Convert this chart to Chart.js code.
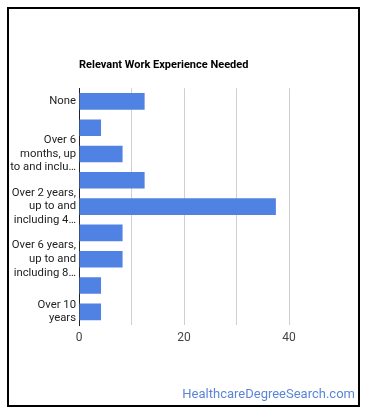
<!DOCTYPE html>
<html>
<head>
<meta charset="utf-8">
<script src="https://cdn.jsdelivr.net/npm/chart.js@4"></script>
<style>
  body { margin: 0; background: #fff; }
  #wrap { position: relative; width: 370px; height: 417px; }
  #frame { position: absolute; left: 7px; top: 7px; width: 349px; height: 396px; border: 2px solid #000; }
  #myChart { position: absolute; left: 0; top: 0; }
  #credit { position: absolute; right: 15px; top: 386px; font: 13px Roboto, Arial, sans-serif; color: #5b86d6; }
</style>
</head>
<body>
<div id="wrap">
  <div id="frame"></div>
  <canvas id="myChart" width="370" height="417"></canvas>
  <div id="credit">HealthcareDegreeSearch.com</div>
</div>
<script>
const categories = [
  "None",
  "Over 3 months, up to and including 6 months",
  "Over 6 months, up to and including 1 year",
  "Over 1 year, up to and including 2 years",
  "Over 2 years, up to and including 4 years",
  "Over 4 years, up to and including 6 years",
  "Over 6 years, up to and including 8 years",
  "Over 8 years, up to and including 10 years",
  "Over 10 years",
];
const values = [12.5, 4.2, 8.3, 12.5, 37.5, 8.3, 8.3, 4.2, 4.2];
// every other label is shown, wrapped and cut like the original
const tickLabels = [
  "None",
  "",
  ["Over 6", "months, up", "to and inclu…"],
  "",
  ["Over 2 years,", "up to and", "including 4…"],
  "",
  ["Over 6 years,", "up to and", "including 8…"],
  "",
  ["Over 10", "years"],
];
const xTicks = [0, 10, 20, 30, 40];

const cht = document.getElementById("myChart");

const chart = new Chart(cht, {
  type: "bar",
  data: {
    labels: categories,
    datasets: [
      {
        label: "Percent",
        data: values,
        backgroundColor: "rgb(80, 130, 228)",
        barPercentage: 1,
        categoryPercentage: 0.63,
      },
    ],
  },
  options: {
    indexAxis: "y",
    responsive: false,
    animation: false,
    layout: { padding: { left: 0, right: 18, top: 0, bottom: 0 } },
    scales: {
      x: {
        min: 0,
        max: 52,
        afterBuildTicks: (scale) => {
          scale.ticks = xTicks.map((v) => ({ value: v }));
        },
        afterFit: (scale) => {
          scale.height = 92;
        },
        grid: { color: "#d0d0d0", drawTicks: false },
        border: { display: false },
        ticks: {
          padding: 6,
          color: "#444",
          font: { family: "Roboto", size: 12 },
          callback: (v) => (v % 20 === 0 ? v : ""),
        },
      },
      y: {
        afterFit: (scale) => {
          scale.width = 79;
        },
        grid: { display: false, drawTicks: false },
        border: { display: true, color: "#222", width: 1 },
        ticks: {
          padding: 3,
          autoSkip: false,
          color: "#222",
          font: { family: "Roboto", size: 11.3, lineHeight: 1.2 },
          callback: (v, i) => tickLabels[i],
        },
      },
    },
    plugins: {
      legend: { display: false },
      tooltip: { enabled: false },
      title: {
        display: true,
        text: "Relevant Work Experience Needed",
        align: "start",
        fullSize: false,
        color: "#000",
        font: { family: "Roboto", size: 11, weight: "bold" },
        padding: { top: 59, bottom: 16 },
      },
    },
  },
});
</script>
</body>
</html>
